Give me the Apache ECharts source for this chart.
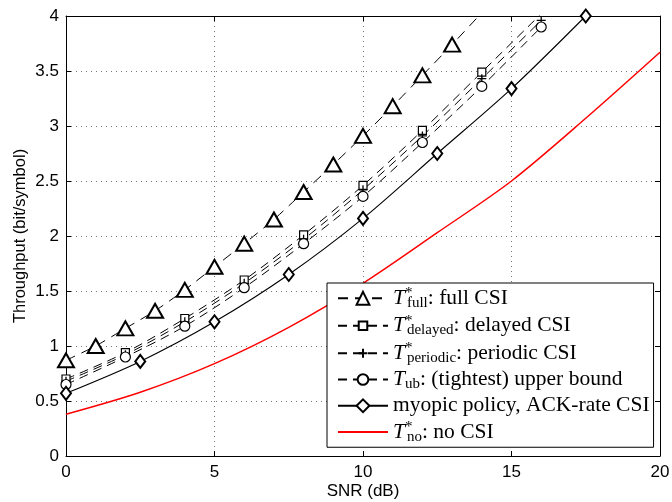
<!DOCTYPE html>
<html>
<head>
<meta charset="utf-8">
<script src="https://cdn.jsdelivr.net/npm/echarts@6/dist/echarts.min.js"></script>
<style>html,body{margin:0;padding:0;background:#fff}#c{width:672px;height:502px}</style>
</head>
<body>
<div id="c"></div>
<script>
// ---- data ----
const fullX = [0,1,2,3,4,5,6,7,8,9,10,11,12,13,14];
const fullY = [0.87,1.00,1.16,1.32,1.51,1.72,1.93,2.15,2.40,2.65,2.91,3.18,3.46,3.74,4.03];
const evenX = [0,2,4,6,8,10,12,14,16];
const delayedY = [0.70,0.94,1.25,1.60,2.01,2.46,2.96,3.49,4.02];
const periodicY = [0.68,0.92,1.22,1.57,1.97,2.42,2.91,3.43,3.96];
const ubY = [0.65,0.90,1.18,1.53,1.93,2.36,2.85,3.36,3.90];
const myopicX = [0,2.5,5,7.5,10,12.5,15,17.5];
const myopicY = [0.57,0.86,1.22,1.65,2.16,2.75,3.34,4.00];
const noX = [0,2.5,5,7.5,10,12.5,15,17.5,20];
const noY = [0.38,0.58,0.84,1.17,1.57,2.03,2.50,3.07,3.67];
const seriesNames = ['full','delayed','periodic','ub','myopic','no'];
const legendSubs = {full:'full', delayed:'delayed', periodic:'periodic', ub:'ub', myopic:null, no:'no'};
const legendStar = {full:true, delayed:true, periodic:true, ub:false, myopic:false, no:true};
const legendTexts = {full:': full CSI', delayed:': delayed CSI', periodic:': periodic CSI', ub:': (tightest) upper bound', myopic:'myopic policy, ACK-rate CSI', no:': no CSI'};
const xTicks = ['0','5','10','15','20'];
const xName = 'SNR (dB)';
const yName = 'Throughput (bit/symbol)';

function pairs(xs, ys){ return xs.map((x,i)=>[x, ys[i]]); }

const serif = 'Liberation Serif, Times New Roman, serif';
const sans = 'Liberation Sans, Arial, Helvetica, sans-serif';
const dash = [9, 6];

// marker shapes (padded boxes so legend icons keep relative sizes)
const squarePath = 'path://M0,0 M12,12 M2,2 H10 V10 H2 Z';
const plusPath = 'path://M0,0 M13,13 M2,6.5 H11 M6.5,2 V11';
const circlePath = 'path://M0,0 M12,12 M11,6 A5,5 0 1 1 1,6 A5,5 0 1 1 11,6 Z';

const chart = echarts.init(document.getElementById('c'), null, {renderer:'canvas'});

const option = {
  animation: false,
  backgroundColor: '#fff',
  grid: {left: 66, right: 12, top: 16, bottom: 46, containLabel: false, outerBoundsMode: 'none'},
  xAxis: [{
    type: 'value', min: 0, max: 20, interval: 5,
    name: xName, nameLocation: 'middle', nameGap: 27, nameMoveOverlap: false,
    nameTextStyle: {fontFamily: sans, fontSize: 17, color: '#000'},
    axisLine: {show: true, onZero: false, lineStyle: {color: '#000', width: 1}},
    axisTick: {show: true, inside: true, length: 5, lineStyle: {color: '#000'}},
    axisLabel: {fontFamily: sans, fontSize: 17, color: '#000', margin: 8,
      formatter: (v) => xTicks[Math.round(v/5)] || ''},
    splitLine: {show: true, lineStyle: {color: '#777', type: [1, 4], width: 1}}
  },{
    type: 'value', min: 0, max: 20, interval: 5, position: 'top',
    axisLine: {show: true, onZero: false, lineStyle: {color: '#000'}},
    axisTick: {show: true, inside: true, length: 5, lineStyle: {color: '#000'}},
    axisLabel: {show: false}, splitLine: {show: false}
  }],
  yAxis: [{
    type: 'value', min: 0, max: 4, interval: 0.5,
    name: yName, nameLocation: 'middle', nameGap: 37, nameMoveOverlap: false,
    nameTextStyle: {fontFamily: sans, fontSize: 16.5, color: '#000'},
    axisLine: {show: true, onZero: false, lineStyle: {color: '#000', width: 1}},
    axisTick: {show: true, inside: true, length: 5, lineStyle: {color: '#000'}},
    axisLabel: {fontFamily: sans, fontSize: 17, color: '#000', margin: 7},
    splitLine: {show: true, lineStyle: {color: '#777', type: [1, 4], width: 1}}
  },{
    type: 'value', min: 0, max: 4, interval: 0.5, position: 'right',
    axisLine: {show: true, onZero: false, lineStyle: {color: '#000'}},
    axisTick: {show: true, inside: true, length: 5, lineStyle: {color: '#000'}},
    axisLabel: {show: false}, splitLine: {show: false}
  }],
  legend: {
    orient: 'vertical', left: 327, top: 283,
    data: seriesNames.map(n => n === 'no' ? {name: n, itemStyle: {opacity: 0}} : {name: n}),
    itemWidth: 50, itemHeight: 16, itemGap: 3,
    padding: [3, 4, 3, 10],
    backgroundColor: '#fff', borderColor: '#000', borderWidth: 1,
    textStyle: {
      fontFamily: serif, fontSize: 21.5, color: '#000',
      rich: {
        it: {fontFamily: serif, fontStyle: 'italic', fontSize: 21.5, lineHeight: 24.5},
        sup: {fontFamily: serif, fontSize: 15, lineHeight: 14, verticalAlign: 'top', width: 2},
        sub: {fontFamily: serif, fontSize: 15, lineHeight: 14, verticalAlign: 'bottom'},
        rm: {fontFamily: serif, fontSize: 21.5, lineHeight: 24.5}
      }
    },
    formatter: function(name){
      if (legendSubs[name] === null) return '{rm|' + legendTexts[name] + '}';
      let s = '{it|T}';
      if (legendStar[name]) s += '{sup|*}';
      s += '{sub|' + legendSubs[name] + '}';
      s += '{rm|' + legendTexts[name] + '}';
      return s;
    }
  },
  series: [
    {name: 'full', type: 'line', data: pairs(fullX, fullY), smooth: 0.2,
     symbol: 'emptyTriangle', symbolSize: [16, 14], clip: true,
     lineStyle: {color: '#000', width: 1, type: [10, 7]}, itemStyle: {color: '#000', borderWidth: 1.2}},
    {name: 'delayed', type: 'line', data: pairs(evenX, delayedY), smooth: 0.3,
     symbol: squarePath, symbolSize: 12, clip: true,
     lineStyle: {color: '#000', width: 1, type: dash}, itemStyle: {color: '#fff', borderColor: '#000', borderWidth: 1.2}},
    {name: 'periodic', type: 'line', data: pairs(evenX, periodicY), smooth: 0.3,
     symbol: plusPath, symbolSize: 13, clip: true,
     lineStyle: {color: '#000', width: 1, type: dash}, itemStyle: {color: '#000', borderColor: '#000', borderWidth: 1.3}},
    {name: 'ub', type: 'line', data: pairs(evenX, ubY), smooth: 0.3,
     symbol: circlePath, symbolSize: 12, clip: true,
     lineStyle: {color: '#000', width: 1, type: dash}, itemStyle: {color: '#fff', borderColor: '#000', borderWidth: 1.2}},
    {name: 'myopic', type: 'line', data: pairs(myopicX, myopicY), smooth: 0.3,
     symbol: 'emptyDiamond', symbolSize: [10, 13], clip: true,
     lineStyle: {color: '#000', width: 1.1, type: 'solid'}, itemStyle: {color: '#000', borderWidth: 1.2}},
    {name: 'no', type: 'line', data: pairs(noX, noY), smooth: 0.3,
     symbol: 'none', clip: true,
     lineStyle: {color: '#ff0000', width: 1.5, type: 'solid'}, itemStyle: {color: '#ff0000'}}
  ]
};
chart.setOption(option);
</script>
</body>
</html>
